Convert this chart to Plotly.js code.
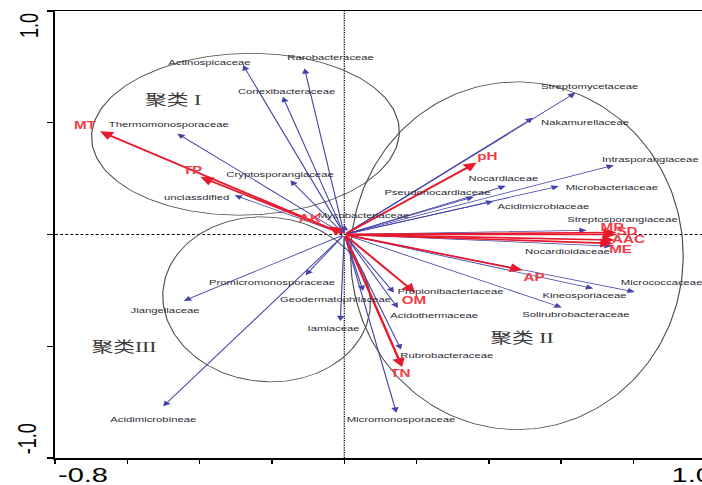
<!DOCTYPE html>
<html>
<head>
<meta charset="utf-8">
<script src="https://cdn.plot.ly/plotly-3.0.1.min.js"></script>
<style>
  html, body { margin: 0; padding: 0; background: #fff; overflow: hidden; }
  #wrap { width: 702px; height: 485px; overflow: hidden; }
  /* the biplot is laid out narrow and widened horizontally */
  #chart { width: 484px; height: 485px; transform: scaleX(1.4504); transform-origin: 0 0; }
</style>
</head>
<body>
<div id="wrap"><div id="chart"></div></div>
<script>
// ---- RDA scores: bacterial families (species arrows) ----
const speciesNames = [
  'Actinospicaceae', 'Rarobacteraceae', 'Conexibacteraceae', 'Thermomonosporaceae',
  'Cryptosporangiaceae', 'unclassdified', 'Mycobacteriaceae', 'Streptomycetaceae',
  'Nakamurellaceae', 'Intrasporangiaceae', 'Nocardiaceae', 'Microbacteriaceae',
  'Pseudonocardiaceae', 'Acidimicrobiaceae', 'Streptosporangiaceae', 'Nocardioidaceae',
  'Micrococcaceae', 'Kineosporiaceae', 'Solirubrobacteraceae', 'Propionibacteriaceae',
  'Acidothermaceae', 'Rubrobacteraceae', 'Micromonosporaceae', 'Geodermatophilaceae',
  'Promicromonosporaceae', 'Jiangellaceae', 'Iamiaceae', 'Acidimicrobineae'
];
const speciesAxis1 = [
  -0.280, -0.110, -0.170, -0.462,
  -0.149, -0.304,  0.001,  0.639,
   0.522,  0.746,  0.447,  0.594,
   0.358,  0.413,  0.671,  0.740,
   0.804,  0.689,  0.602,  0.137,
   0.148,  0.157,  0.144,  0.052,
  -0.107, -0.444, -0.011, -0.501
];
const speciesAxis2 = [
   0.758,  0.743,  0.616,  0.452,
   0.243,  0.176,  0.042,  0.634,
   0.522,  0.310,  0.218,  0.216,
   0.168,  0.149,  0.019, -0.052,
  -0.257, -0.242, -0.327, -0.260,
  -0.329, -0.515, -0.797, -0.252,
  -0.182, -0.297, -0.387, -0.769
];

// ---- RDA scores: soil properties (environment arrows) ----
const envNames = ['MT', 'TP', 'AK', 'pH', 'MR', 'SD', 'AAC', 'ME', 'AP', 'OM', 'TN'];
const envAxis1 = [-0.676, -0.398, -0.041, 0.366, 0.753, 0.753, 0.749, 0.744, 0.494, 0.196, 0.160];
const envAxis2 = [ 0.462,  0.258,  0.037, 0.322, 0.009, 0.000, -0.025, -0.040, -0.160, -0.261, -0.593];

// ---- cluster outlines ----
const clusterNames = ['聚类 I', '聚类 II', '聚类III'];
const clusterCenterX = [-0.2735, 0.4775, -0.215];
const clusterCenterY = [0.4485, -0.095, -0.290];
const clusterRadiusX = [0.4255, 0.460, 0.287];
const clusterRadiusY = [0.362, 0.778, 0.369];
const clusterShear = [0.015, 0.0, -0.012];

// ---- axis tick labels ----
const xTickText = ['-0.8', '1.0'];
const yTickText = ['1.0', '-1.0'];

// label placement (pixel offsets from arrow tips)
const speciesLabelShift = [
  [-23.4, 3], [17.6, 11], [2.8, 5.7], [-6.2, 9],
  [-7.6, 5.7], [-26.6, -2.7], [12.4, 10], [10.3, 6.7],
  [35.9, -5], [24.8, 5.7], [-1.9, 7], [36.3, -1.7],
  [-25.5, 4.7], [33.8, -5.7], [24.8, 11], [-30.3, -5.7],
  [17.9, 9.4], [-6.6, -7.4], [9.5, -6.7], [38.6, 1],
  [24.8, -7.3], [31, -5.7], [3.1, -6.7], [-18.6, -8.6],
  [-22.8, -7.3], [-13.1, -9.6], [-4.8, -7.7], [-6.7, -13.3]
];
const envLabelShift = [
  [-9.7, 6], [-5.5, 7], [-13.1, 8], [6.9, 6.6], [-2.8, 5.6], [7.6, 3.6],
  [9, 0.7], [5.5, -6], [7.6, -7], [-0.7, -7], [-1.4, -6]
];
const clusterLabelPos = [[-0.472, 0.601], [0.491, -0.463], [-0.608, -0.503]];

const X_RANGE = [-0.8, 0.9895];
const Y_RANGE = [-1.0, 1.0];

// cluster ellipses
const traces = clusterNames.map((name, i) => {
  const xs = [], ys = [];
  for (let k = 0; k <= 240; k++) {
    const t = 2 * Math.PI * k / 240;
    xs.push(clusterCenterX[i] + clusterRadiusX[i] * Math.cos(t) + clusterShear[i] * Math.sin(t));
    ys.push(clusterCenterY[i] + clusterRadiusY[i] * Math.sin(t));
  }
  return {
    type: 'scatter', mode: 'lines', x: xs, y: ys, name: name,
    line: { color: '#4a4a4a', width: 0.8 }, hoverinfo: 'skip', showlegend: false
  };
});

const annotations = [];

// species arrows
speciesNames.forEach((n, i) => {
  annotations.push({
    x: speciesAxis1[i], y: speciesAxis2[i], xref: 'x', yref: 'y',
    ax: 0, ay: 0, axref: 'x', ayref: 'y', text: '', showarrow: true,
    arrowhead: 2, arrowsize: 1.3, arrowwidth: 0.8, arrowcolor: '#4343a8',
    standoff: 0, startstandoff: 0
  });
});
// environment arrows
envNames.forEach((n, i) => {
  annotations.push({
    x: envAxis1[i], y: envAxis2[i], xref: 'x', yref: 'y',
    ax: 0, ay: 0, axref: 'x', ayref: 'y', text: '', showarrow: true,
    arrowhead: 2, arrowsize: 1.05, arrowwidth: 1.7, arrowcolor: '#e8192c',
    standoff: 0, startstandoff: 0
  });
});
// species labels
speciesNames.forEach((n, i) => {
  annotations.push({
    x: speciesAxis1[i], y: speciesAxis2[i], xref: 'x', yref: 'y',
    text: n, showarrow: false, xanchor: 'center', yanchor: 'middle',
    xshift: speciesLabelShift[i][0], yshift: speciesLabelShift[i][1],
    font: { family: 'Liberation Sans, Arial, sans-serif', size: 7.8, color: '#2b2b33' }
  });
});
// environment labels
envNames.forEach((n, i) => {
  annotations.push({
    x: envAxis1[i], y: envAxis2[i], xref: 'x', yref: 'y',
    text: '<b>' + n + '</b>', showarrow: false, xanchor: 'center', yanchor: 'middle',
    xshift: envLabelShift[i][0], yshift: envLabelShift[i][1],
    font: { family: 'Liberation Sans, Arial, sans-serif', size: 10.5, color: '#f03c46' }
  });
});
// cluster names
clusterNames.forEach((n, i) => {
  annotations.push({
    x: clusterLabelPos[i][0], y: clusterLabelPos[i][1], xref: 'x', yref: 'y',
    text: n, showarrow: false, xanchor: 'center', yanchor: 'middle',
    font: { family: 'Liberation Serif, Noto Sans CJK SC, serif', size: 15, color: '#3a3a3a' }
  });
});
// axis end labels
const tickFont = { family: 'Liberation Sans, Arial, sans-serif', size: 20, color: '#000' };
annotations.push({ x: 0, y: 0, xref: 'paper', yref: 'paper', text: xTickText[0], showarrow: false,
  xanchor: 'center', yanchor: 'middle', xshift: 18.8, yshift: -16.5, font: tickFont });
annotations.push({ x: 1, y: 0, xref: 'paper', yref: 'paper', text: xTickText[1], showarrow: false,
  xanchor: 'center', yanchor: 'middle', xshift: -7.2, yshift: -16.5, font: tickFont });
annotations.push({ x: 0, y: 1, xref: 'paper', yref: 'paper', text: yTickText[0], showarrow: false,
  textangle: -90, xanchor: 'center', yanchor: 'middle', xshift: -18.4, yshift: -14.5,
  font: { family: tickFont.family, size: 18, color: '#000' } });
annotations.push({ x: 0, y: 0, xref: 'paper', yref: 'paper', text: yTickText[1], showarrow: false,
  textangle: -90, xanchor: 'center', yanchor: 'middle', xshift: -19.1, yshift: 19.7,
  font: { family: tickFont.family, size: 18, color: '#000' } });

const layout = {
  width: 484, height: 485, autosize: false,
  margin: { l: 37.5, r: 0, t: 11, b: 27.3, pad: 0, autoexpand: false },
  paper_bgcolor: '#fff', plot_bgcolor: '#fff',
  showlegend: false,
  xaxis: {
    range: X_RANGE, showgrid: false, zeroline: false, showticklabels: false,
    ticks: 'outside', ticklen: 4, tickwidth: 1, tickcolor: '#000', tick0: -0.8, dtick: 0.2,
    showline: true, linecolor: '#000', linewidth: 1.5, mirror: true, fixedrange: true
  },
  yaxis: {
    range: Y_RANGE, showgrid: false, zeroline: false, showticklabels: false,
    ticks: 'outside', ticklen: 4, tickwidth: 1.2, tickcolor: '#000', tick0: -1, dtick: 0.5,
    showline: true, linecolor: '#000', linewidth: 1.3, mirror: false, fixedrange: true
  },
  shapes: [
    { type: 'line', xref: 'x', yref: 'paper', x0: 0, x1: 0, y0: 0, y1: 1, layer: 'below',
      line: { color: '#000', width: 0.9, dash: '1.2px,1.2px' } },
    { type: 'line', xref: 'paper', yref: 'y', x0: 0, x1: 1, y0: 0, y1: 0, layer: 'below',
      line: { color: '#000', width: 0.9, dash: '2px,1.5px' } }
  ],
  annotations: annotations
};

Plotly.newPlot('chart', traces, layout, { staticPlot: true, displayModeBar: false });
</script>
</body>
</html>
